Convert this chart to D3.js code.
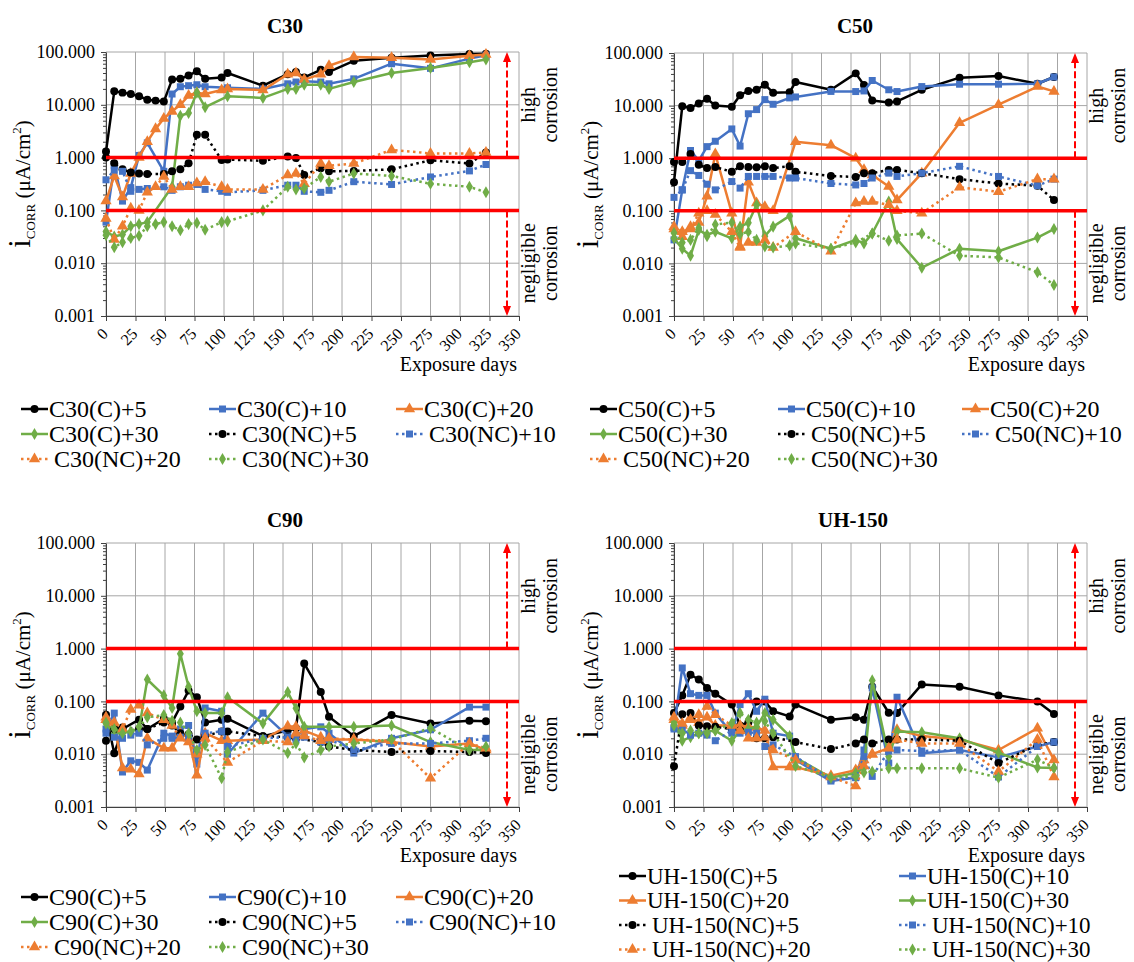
<!DOCTYPE html>
<html>
<head>
<meta charset="utf-8">
<script src="https://cdn.jsdelivr.net/npm/d3@7"></script>
<style>
  body { margin: 0; background: #fff; }
  svg, svg text { font-family: 'Liberation Serif', 'DejaVu Serif', serif; }
</style>
</head>
<body>
<svg width="1134" height="962"></svg>
<script>
const svg = d3.select('svg').attr('font-family', "'Liberation Serif', 'DejaVu Serif', serif");

// measurement days (same grid for every panel, null = not measured)
const days = [0, 7, 14, 21, 28, 35, 42, 49, 56, 63, 70, 77, 84, 98, 103, 133, 154, 161, 168, 182, 189, 210, 242, 275, 308, 322];

// C30
const c30_C5   = [1.3, 18, 17, 16, 14.5, 12.5, 12, 11.5, 30, 31, 36, 43, 31, 33, 40, 23, 38, 42, 33, 46, 42, 68, 78, 86, 92, 93];
const c30_C10  = [0.06, 0.7, 0.15, 0.27, 1.1, 1.9, null, 0.55, 16, 22, 23, 24, 22, null, 21, 20, 25, 27, 28, 27, 25, 31, 60, 49, 75, 87];
const c30_C20  = [0.15, 0.45, 0.18, 0.5, 1.0, 2.0, 3.5, 5.5, 7.5, 10, 15, 17, 16, 19, 20, 19, 38, 40, 30, 38, 55, 80, 78, 72, 85, 90];
const c30_C30  = [0.04, 0.032, 0.035, 0.05, 0.055, 0.06, null, null, 0.28, 6.2, 7, 17, 9, null, 14.5, 13.5, 20, 20, 24, 24, 20, 27, 40, 50, 64, 72];
const c30_NC5  = [1.0, 0.78, 0.6, 0.52, 0.5, 0.49, null, 0.49, 0.55, 0.6, 0.78, 2.7, 2.7, 0.9, 0.92, 0.87, 1.05, 0.98, 0.47, 0.63, 0.55, 0.56, 0.6, 0.89, 0.77, 1.25];
const c30_NC10 = [0.38, 0.58, 0.55, 0.23, 0.25, 0.26, null, 0.28, 0.24, 0.28, 0.3, 0.31, 0.25, 0.23, 0.22, 0.24, 0.3, 0.3, 0.23, 0.22, 0.24, 0.35, 0.31, 0.43, 0.56, 0.74];
const c30_NC20 = [0.07, 0.028, 0.05, 0.11, 0.1, 0.22, 0.28, 0.44, 0.25, 0.28, 0.28, 0.33, 0.35, 0.28, 0.25, 0.25, 0.47, 0.5, 0.32, 0.77, 0.7, 0.77, 1.4, 1.2, 1.2, 1.25];
const c30_NC30 = [0.034, 0.02, 0.025, 0.03, 0.033, 0.05, 0.055, 0.06, 0.05, 0.042, 0.055, 0.058, 0.043, 0.06, 0.062, 0.1, 0.28, 0.25, 0.26, 0.43, 0.35, 0.5, 0.45, 0.32, 0.28, 0.22];

// C50
const c50_C5   = [0.35, 9.7, 9, 11, 13.5, 10, null, 9.5, 15.8, 19, 20, 25, 17.6, 18, 28, 20, 41, 24.7, 12.5, 11.5, 12, 20, 34, 36.5, 26, 35];
const c50_C10  = [0.028, 0.25, 1.4, 0.9, 1.66, 2.1, null, 3.6, 1.7, 7, 8.4, 13, 10.6, 14, 14.6, 18.6, 18.5, 19, 30, 20, 18.5, 23, 25.5, 25.5, 26, 35];
const c50_C20  = [0.045, 0.032, 0.05, 0.06, 0.19, 1.2, null, 0.09, 0.021, 0.35, 0.14, 0.12, 0.1, null, 2.05, 1.77, 1.0, 0.6, 0.48, 0.29, 0.16, 0.52, 4.7, 10.4, 23, 18.6];
const c50_C30  = [0.03, 0.019, 0.014, 0.043, 0.035, 0.04, null, 0.03, 0.05, 0.059, 0.13, 0.033, 0.05, 0.08, 0.03, 0.019, 0.028, 0.024, 0.037, 0.15, 0.029, 0.0083, 0.019, 0.017, 0.031, 0.045];
const c50_NC5  = [0.85, 0.85, 1.2, 0.75, 0.65, 0.68, null, 0.55, 0.7, 0.68, 0.67, 0.7, 0.65, 0.7, 0.55, 0.46, 0.44, 0.52, 0.52, 0.6, 0.6, 0.52, 0.4, 0.33, 0.3, 0.16];
const c50_NC10 = [0.18, 0.25, 0.58, 0.47, 0.32, 0.25, null, 0.36, 0.27, 0.45, 0.45, 0.45, 0.45, 0.42, 0.42, 0.33, 0.31, 0.33, 0.42, 0.52, 0.45, 0.52, 0.7, 0.45, 0.3, 0.4];
const c50_NC20 = [0.05, 0.04, 0.045, 0.09, 0.1, 0.085, null, 0.04, 0.02, 0.025, 0.025, 0.028, 0.02, null, 0.04, 0.017, 0.14, 0.15, 0.15, 0.13, 0.1, 0.09, 0.28, 0.23, 0.4, 0.4];
const c50_NC30 = [0.038, 0.025, 0.028, 0.047, 0.033, 0.055, null, 0.06, 0.036, 0.04, 0.028, 0.021, 0.02, 0.022, 0.024, 0.019, 0.025, null, 0.037, 0.027, 0.034, 0.037, 0.014, 0.013, 0.0068, 0.0039];

// C90
const c90_C5   = [0.056, 0.0104, 0.03, null, 0.045, 0.03, null, 0.047, 0.04, 0.08, 0.16, 0.12, 0.04, 0.045, 0.047, 0.022, 0.028, 0.031, 0.52, 0.15, 0.051, 0.022, 0.055, 0.038, 0.043, 0.042];
const c90_C10  = [0.03, 0.06, 0.0046, 0.0075, 0.007, 0.005, null, 0.025, 0.022, 0.03, 0.035, 0.0065, 0.075, 0.065, 0.01, 0.06, 0.022, 0.021, 0.03, 0.033, 0.025, 0.0105, 0.02, 0.029, 0.078, 0.078];
const c90_C20  = [0.045, 0.035, 0.0055, 0.0052, 0.0042, 0.02, null, 0.013, 0.013, 0.025, 0.02, 0.004, 0.025, 0.018, 0.018, 0.019, 0.034, 0.033, 0.028, 0.021, 0.019, 0.019, 0.017, 0.014, 0.016, 0.012];
const c90_C30  = [0.038, 0.025, 0.025, null, 0.03, 0.26, null, 0.13, 0.075, 0.8, 0.19, 0.065, 0.06, 0.06, 0.12, 0.038, 0.15, 0.074, 0.033, null, 0.033, 0.033, 0.035, 0.017, 0.012, 0.012];
const c90_NC5  = [0.018, 0.03, 0.032, null, 0.03, 0.03, null, 0.04, 0.035, 0.025, 0.024, 0.019, 0.022, 0.027, 0.027, 0.022, 0.021, 0.02, null, 0.017, 0.014, 0.012, 0.011, 0.0115, 0.011, 0.0105];
const c90_NC10 = [0.025, 0.021, 0.02, 0.023, 0.025, 0.015, null, 0.02, 0.02, 0.021, 0.021, 0.01, 0.025, 0.027, 0.014, 0.02, 0.021, 0.019, 0.021, 0.017, 0.019, 0.012, 0.016, 0.016, 0.018, 0.02];
const c90_NC20 = [0.05, 0.04, 0.03, 0.07, 0.085, 0.06, null, 0.045, 0.035, 0.02, 0.017, 0.01, 0.02, null, 0.007, 0.018, 0.017, 0.025, 0.022, 0.018, 0.02, 0.019, 0.018, 0.0035, 0.016, 0.013];
const c90_NC30 = [0.04, 0.03, 0.025, 0.027, 0.033, 0.05, null, 0.055, 0.043, 0.04, 0.025, 0.012, 0.015, 0.0035, 0.011, 0.019, 0.0105, 0.016, 0.0087, 0.012, 0.014, 0.016, 0.019, 0.031, 0.012, 0.014];

// UH-150
const uh_C5   = [0.06, 0.13, 0.32, 0.26, 0.18, 0.14, null, 0.087, 0.035, 0.04, 0.1, 0.1, 0.065, 0.052, 0.087, 0.045, 0.05, 0.045, 0.19, 0.061, 0.06, 0.21, 0.19, 0.13, 0.1, 0.058];
const uh_C10  = [0.032, 0.43, 0.14, 0.13, 0.13, 0.06, null, 0.025, 0.087, 0.14, 0.065, 0.11, 0.025, 0.022, 0.0078, 0.0031, 0.0036, 0.012, 0.18, 0.0068, 0.12, 0.0104, 0.012, 0.0087, 0.014, 0.017];
const uh_C20  = [0.045, 0.035, 0.05, 0.04, 0.05, 0.035, null, 0.035, 0.035, 0.033, 0.032, 0.028, 0.0057, 0.0057, 0.0057, 0.0039, 0.005, 0.0078, 0.01, 0.013, 0.029, 0.022, 0.019, 0.012, 0.031, 0.0078];
const uh_C30  = [0.04, 0.018, 0.021, 0.025, 0.027, 0.028, null, 0.018, 0.028, 0.03, 0.033, 0.06, 0.045, 0.022, 0.0086, 0.0036, 0.0044, 0.0055, 0.25, 0.009, 0.027, 0.026, 0.02, 0.0107, 0.0056, 0.0055];
const uh_NC5  = [0.0059, 0.057, 0.06, 0.035, 0.034, 0.033, null, 0.03, 0.028, null, 0.02, 0.02, 0.021, null, 0.017, 0.0125, 0.016, 0.019, 0.016, 0.019, 0.019, 0.019, 0.018, 0.0068, 0.015, 0.017];
const uh_NC10 = [0.03, 0.03, 0.023, 0.025, 0.023, 0.018, null, 0.028, 0.025, 0.026, 0.025, 0.014, 0.015, null, 0.009, 0.0033, 0.0036, 0.009, 0.0038, 0.0115, 0.012, 0.0115, 0.012, 0.0037, 0.014, 0.017];
const uh_NC20 = [0.05, 0.038, 0.045, 0.056, 0.08, 0.056, null, 0.035, 0.028, 0.02, 0.02, 0.021, 0.012, null, 0.0078, 0.0037, 0.0025, 0.006, 0.01, 0.013, 0.019, 0.016, 0.016, 0.0047, 0.019, 0.0037];
const uh_NC30 = [0.035, 0.025, 0.028, 0.025, 0.025, 0.028, null, 0.039, 0.06, 0.045, 0.04, 0.042, 0.025, null, 0.006, 0.0036, 0.0038, 0.0045, 0.0047, 0.0054, 0.0054, 0.0054, 0.0054, 0.0036, 0.0079, 0.0055];

const suffixes = ['(C)+5', '(C)+10', '(C)+20', '(C)+30', '(NC)+5', '(NC)+10', '(NC)+20', '(NC)+30'];
const colors = ['#000000', '#4472C4', '#ED7D31', '#70AD47'];
const shapes = [d3.symbolCircle, d3.symbolSquare, d3.symbolTriangle, d3.symbolDiamond];
const shapeSizes = [50, 49, 55, 42];

const xTicks = [0, 25, 50, 75, 100, 125, 150, 175, 200, 225, 250, 275, 300, 325, 350];
const yTicks = [0.001, 0.01, 0.1, 1, 10, 100];
const yTickLabels = ['0.001', '0.010', '0.100', '1.000', '10.000', '100.000'];
const limits = [1, 0.1];

const panels = [
  { name: 'C30', series: [c30_C5, c30_C10, c30_C20, c30_C30, c30_NC5, c30_NC10, c30_NC20, c30_NC30],
    left: 106, right: 519, top: 52, bottom: 316, titleX: 285, titleY: 33,
    legendX: [21, 209, 396], legendY: [409, 434, 459], legendFont: 24 },
  { name: 'C50', series: [c50_C5, c50_C10, c50_C20, c50_C30, c50_NC5, c50_NC10, c50_NC20, c50_NC30],
    left: 674, right: 1087, top: 53, bottom: 316, titleX: 855, titleY: 33,
    legendX: [590, 778, 962], legendY: [409, 434, 459], legendFont: 24 },
  { name: 'C90', series: [c90_C5, c90_C10, c90_C20, c90_C30, c90_NC5, c90_NC10, c90_NC20, c90_NC30],
    left: 106, right: 519, top: 543, bottom: 807, titleX: 285, titleY: 527,
    legendX: [21, 209, 396], legendY: [897, 922, 947], legendFont: 24 },
  { name: 'UH-150', series: [uh_C5, uh_C10, uh_C20, uh_C30, uh_NC5, uh_NC10, uh_NC20, uh_NC30],
    left: 674, right: 1087, top: 543, bottom: 807, titleX: 853, titleY: 527,
    legendX: [619, 899], legendY: [876, 900.5, 925, 949.5], legendFont: 23 }
];

const minorTicks = [];
[0.001, 0.01, 0.1, 1, 10].forEach(dec => {
  for (let m = 2; m < 10; m++) minorTicks.push(dec * m);
});

const lineStyle = (sel, k) => sel
  .attr('fill', 'none')
  .attr('stroke', colors[k % 4])
  .attr('stroke-width', 2.5)
  .attr('stroke-linejoin', 'round')
  .attr('stroke-dasharray', k >= 4 ? '2.5 3.5' : null);

const render = (selection, p) => {
  const x = d3.scaleLinear().domain([0, 350]).range([p.left, p.right]);
  const y = d3.scaleLog().domain([0.001, 100]).range([p.bottom, p.top]);
  const g = selection.append('g');

  // gridlines
  g.selectAll('.vgrid').data(xTicks).enter().append('line')
    .attr('x1', d => x(d)).attr('x2', d => x(d))
    .attr('y1', p.top).attr('y2', p.bottom)
    .attr('stroke', '#a6a6a6').attr('stroke-width', 1);
  g.selectAll('.hgrid').data(yTicks).enter().append('line')
    .attr('x1', p.left).attr('x2', p.right)
    .attr('y1', d => y(d)).attr('y2', d => y(d))
    .attr('stroke', '#a6a6a6').attr('stroke-width', 1);

  // y axis
  const yAxis = g.append('g')
    .attr('transform', `translate(${p.left},0)`)
    .call(d3.axisLeft(y).tickValues(yTicks).tickFormat((d, i) => yTickLabels[i])
      .tickSize(5).tickSizeOuter(0).tickPadding(6));
  yAxis.attr('font-family', null).attr('font-size', 18);
  yAxis.selectAll('path, line').attr('stroke', '#404040');
  yAxis.selectAll('text').attr('fill', '#000');

  const yMinor = g.append('g')
    .attr('transform', `translate(${p.left},0)`)
    .call(d3.axisLeft(y).tickValues(minorTicks).tickFormat('').tickSize(3).tickSizeOuter(0));
  yMinor.select('.domain').remove();
  yMinor.selectAll('line').attr('stroke', '#404040');

  // x axis
  const xAxis = g.append('g')
    .attr('transform', `translate(0,${p.bottom})`)
    .call(d3.axisBottom(x).tickValues(xTicks).tickFormat('').tickSize(5).tickSizeOuter(0));
  xAxis.selectAll('path, line').attr('stroke', '#404040');

  g.selectAll('.xlab').data(xTicks).enter().append('text')
    .attr('transform', d => `translate(${x(d) - 1},${p.bottom + 15}) rotate(-45)`)
    .attr('text-anchor', 'end')
    .attr('dy', '0.35em')
    .attr('font-size', 16)
    .text(d => d);

  g.append('text')
    .attr('x', p.right - 2).attr('y', p.bottom + 55)
    .attr('text-anchor', 'end').attr('font-size', 20)
    .text('Exposure days');

  // y label
  const yl = g.append('text')
    .attr('transform', `translate(${p.left - 76},${(p.top + p.bottom) / 2}) rotate(-90)`)
    .attr('text-anchor', 'middle');
  yl.append('tspan').attr('font-size', 31).text('i');
  yl.append('tspan').attr('font-size', 13).attr('dy', 5).text('CORR');
  yl.append('tspan').attr('font-size', 21).attr('dy', -5).text(' (μA/cm');
  yl.append('tspan').attr('font-size', 13).attr('dy', -9).text('2');
  yl.append('tspan').attr('font-size', 21).attr('dy', 9).text(')');

  // title
  g.append('text')
    .attr('x', p.titleX).attr('y', p.titleY)
    .attr('text-anchor', 'middle').attr('font-size', 21).attr('font-weight', 'bold')
    .text(p.name);

  // series
  const line = d3.line().x(d => x(d[0])).y(d => y(d[1]));
  p.series.forEach((vals, k) => {
    const pts = days.map((d, i) => [d, vals[i]]).filter(d => d[1] != null);
    g.append('path').datum(pts).attr('d', line).call(lineStyle, k);
    g.selectAll(null).data(pts).enter().append('path')
      .attr('transform', d => `translate(${x(d[0])},${y(d[1])})`)
      .attr('d', d3.symbol().type(shapes[k % 4]).size(shapeSizes[k % 4]))
      .attr('fill', colors[k % 4]);
  });

  // limit lines
  g.selectAll('.limit').data(limits).enter().append('line')
    .attr('x1', p.left).attr('x2', p.right)
    .attr('y1', d => y(d)).attr('y2', d => y(d))
    .attr('stroke', '#ff0000').attr('stroke-width', 3.5);

  // dashed arrows
  const ax = p.right - 12;
  const arrows = [
    { from: y(1), to: p.top },
    { from: y(0.1), to: p.bottom }
  ];
  arrows.forEach(a => {
    const dir = a.to < a.from ? 1 : -1;
    g.append('line')
      .attr('x1', ax).attr('x2', ax)
      .attr('y1', a.from).attr('y2', a.to + dir * 8)
      .attr('stroke', '#ff0000').attr('stroke-width', 2).attr('stroke-dasharray', '7 3');
    g.append('path')
      .attr('d', `M${ax},${a.to} L${ax - 4},${a.to + dir * 10} L${ax + 4},${a.to + dir * 10} Z`)
      .attr('fill', '#ff0000');
  });

  // zone labels
  const zones = [
    { lines: ['high', 'corrosion'], at: 10 },
    { lines: ['negligible', 'corrosion'], at: 0.01 }
  ];
  zones.forEach(z => {
    z.lines.forEach((t, j) => {
      g.append('text')
        .attr('transform', `translate(${p.right + 16 + j * 22},${y(z.at)}) rotate(-90)`)
        .attr('text-anchor', 'middle').attr('font-size', 20)
        .text(t);
    });
  });

  // legend
  const cols = p.legendX.length;
  suffixes.forEach((s, k) => {
    const lx = p.legendX[k % cols];
    const ly = p.legendY[Math.floor(k / cols)];
    const item = g.append('g');
    item.append('line')
      .attr('x1', lx).attr('x2', lx + 27).attr('y1', ly).attr('y2', ly)
      .call(lineStyle, k);
    item.append('path')
      .attr('transform', `translate(${lx + 13.5},${ly})`)
      .attr('d', d3.symbol().type(shapes[k % 4]).size(shapeSizes[k % 4]))
      .attr('fill', colors[k % 4]);
    item.append('text')
      .attr('x', lx + 28 + (k >= 4 ? 5 : 0)).attr('y', ly)
      .attr('dy', '0.33em').attr('font-size', p.legendFont)
      .text(p.name + s);
  });
};

panels.forEach(p => render(svg, p));
</script>
</body>
</html>
